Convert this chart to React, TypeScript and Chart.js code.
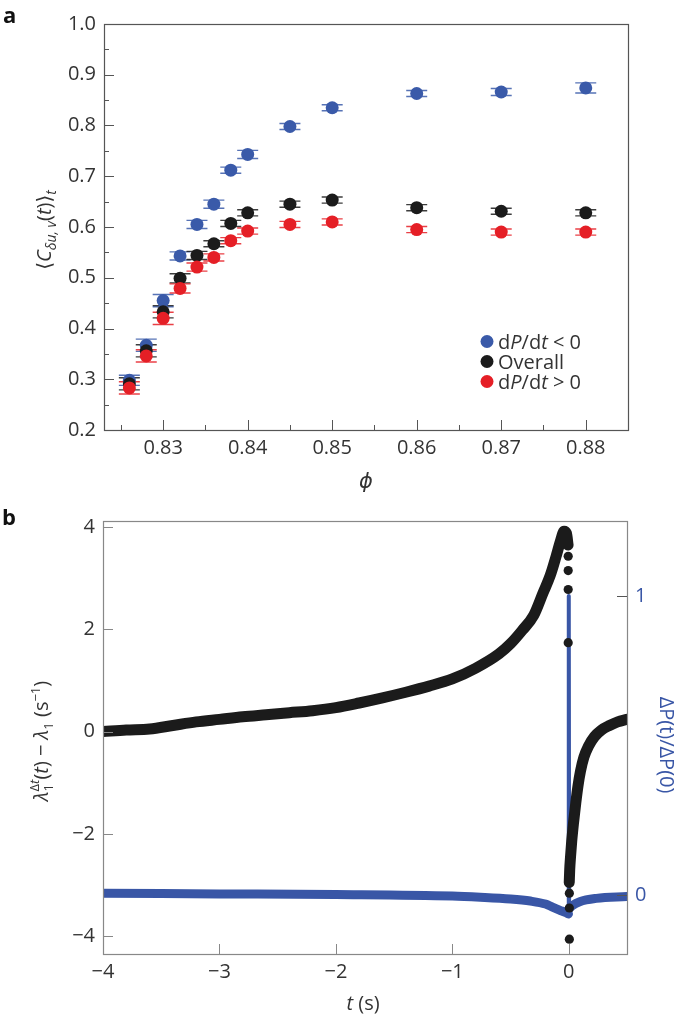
import React, { useEffect, useRef } from "react";
import { Chart, registerables } from "chart.js";
Chart.register(...registerables);

const FONT = '"Open Sans", "DejaVu Sans", sans-serif';
const BLUE = "#3a5aa9";
const BLACK = "#1b1b1b";
const RED = "#e51f26";
const BLUE_LINE = "#3956a6";

// ---------- Panel a data ----------
const phi = [0.826, 0.828, 0.83, 0.832, 0.834, 0.836, 0.838, 0.84, 0.845, 0.85, 0.86, 0.87, 0.88];
const cNeg = [0.298, 0.367, 0.455, 0.543, 0.605, 0.645, 0.712, 0.743, 0.798, 0.835, 0.863, 0.866, 0.874];
const cAll = [0.291, 0.356, 0.433, 0.499, 0.544, 0.567, 0.607, 0.628, 0.645, 0.653, 0.638, 0.631, 0.628];
const cPos = [0.283, 0.346, 0.42, 0.479, 0.521, 0.54, 0.573, 0.592, 0.605, 0.61, 0.595, 0.59, 0.59];
const eNeg = [0.01, 0.012, 0.012, 0.008, 0.008, 0.008, 0.006, 0.008, 0.006, 0.006, 0.006, 0.007, 0.01];
const eAll = [0.012, 0.012, 0.012, 0.009, 0.008, 0.006, 0.006, 0.006, 0.006, 0.006, 0.006, 0.006, 0.006];
const ePos = [0.012, 0.012, 0.012, 0.009, 0.008, 0.007, 0.006, 0.006, 0.006, 0.006, 0.006, 0.006, 0.006];
const xTicksA = [0.83, 0.84, 0.85, 0.86, 0.87, 0.88];
const xMinorA = [0.825, 0.835, 0.845, 0.855, 0.865, 0.875];
const yTicksA = [0.2, 0.3, 0.4, 0.5, 0.6, 0.7, 0.8, 0.9, 1.0];
const yMinorA = [0.25, 0.35, 0.45, 0.55, 0.65, 0.75, 0.85, 0.95];

// ---------- Panel b data ----------
const lamT = [-4.0, -3.8, -3.6, -3.4, -3.2, -3.0, -2.8, -2.6, -2.4, -2.2, -2.0, -1.8, -1.6, -1.4, -1.2, -1.0, -0.8, -0.6, -0.5, -0.4, -0.3, -0.22, -0.16, -0.11, -0.07, -0.04, -0.02, -0.006];
const lamV = [0.0, 0.03, 0.05, 0.12, 0.19, 0.24, 0.29, 0.33, 0.37, 0.41, 0.47, 0.56, 0.66, 0.77, 0.89, 1.03, 1.24, 1.52, 1.72, 1.98, 2.28, 2.72, 3.05, 3.42, 3.74, 3.92, 3.88, 3.65];
const recT = [0.004, 0.008, 0.015, 0.025, 0.04, 0.06, 0.08, 0.1, 0.13, 0.17, 0.22, 0.28, 0.35, 0.42, 0.5];
const recV = [-2.95, -2.7, -2.45, -2.15, -1.8, -1.4, -1.05, -0.78, -0.5, -0.28, -0.1, 0.03, 0.12, 0.19, 0.24];
const dotT = [-0.005, -0.005, -0.005, -0.005, 0.005, 0.005, 0.005];
const dotV = [3.43, 3.15, 2.78, 1.74, -3.16, -3.45, -4.06];
const pLeftT = [-4, -3, -2, -1, -0.76, -0.5, -0.33, -0.2, -0.14, -0.08, -0.03, -0.003];
const pLeftV = [0.006, 0.004, 0.002, -0.003, -0.007, -0.013, -0.02, -0.03, -0.04, -0.05, -0.058, -0.063];
const pSpikeT = [-0.003, 0, 0.003];
const pSpikeV = [-0.063, 1.0, -0.045];
const pRightT = [0.003, 0.03, 0.094, 0.237, 0.5];
const pRightV = [-0.045, -0.035, -0.022, -0.011, -0.005];
const xTicksB = [-4, -3, -2, -1, 0];
const yTicksB = [-4, -2, 0, 2, 4];
const y2TicksB = [0, 1];

const pts = (xs: number[], ys: number[]) => xs.map((x, i) => ({ x, y: ys[i] }));
const fmtMinus = (v: number) => (v < 0 ? "\u2212" + Math.abs(v) : String(v));

type Part = { t: string; size?: number; italic?: boolean; bold?: boolean; dy?: number; adv?: boolean };
const setFont = (ctx: CanvasRenderingContext2D, p: Part) => {
  ctx.font = `${p.italic ? "italic " : ""}${p.bold ? "bold " : ""}${p.size || 20}px ${FONT}`;
};
function partsWidth(ctx: CanvasRenderingContext2D, parts: Part[]) {
  let w = 0;
  for (const p of parts) {
    setFont(ctx, p);
    if (p.adv !== false) w += ctx.measureText(p.t).width;
  }
  return w;
}
function drawRich(ctx: CanvasRenderingContext2D, parts: Part[], x: number, y: number, rot: number, color: string, align: "center" | "left" = "center") {
  ctx.save();
  ctx.translate(x, y);
  ctx.rotate(rot);
  ctx.fillStyle = color;
  ctx.textAlign = "left";
  ctx.textBaseline = "alphabetic";
  let cx = align === "center" ? -partsWidth(ctx, parts) / 2 : 0;
  for (const p of parts) {
    setFont(ctx, p);
    ctx.fillText(p.t, cx, 7 + (p.dy || 0));
    if (p.adv !== false) cx += ctx.measureText(p.t).width;
  }
  ctx.restore();
}

function tickX(ctx: CanvasRenderingContext2D, chart: any, id: string, vals: number[], len: number) {
  const s = chart.scales[id];
  const b = chart.chartArea.bottom;
  for (const v of vals) {
    const x = Math.round(s.getPixelForValue(v)) + 0.5;
    ctx.beginPath();
    ctx.moveTo(x, b);
    ctx.lineTo(x, b - len);
    ctx.stroke();
  }
}
function tickY(ctx: CanvasRenderingContext2D, chart: any, id: string, vals: number[], len: number, side: "left" | "right") {
  const s = chart.scales[id];
  const a = chart.chartArea;
  for (const v of vals) {
    const y = Math.round(s.getPixelForValue(v)) + 0.5;
    ctx.beginPath();
    if (side === "left") {
      ctx.moveTo(a.left, y);
      ctx.lineTo(a.left + len, y);
    } else {
      ctx.moveTo(a.right, y);
      ctx.lineTo(a.right - len, y);
    }
    ctx.stroke();
  }
}

const panelAPlugin = {
  id: "panelA",
  beforeDatasetsDraw(chart: any) {
    const ctx = chart.ctx as CanvasRenderingContext2D;
    const xs = chart.scales.x;
    const ys = chart.scales.y;
    const series: [number[], number[], string][] = [
      [cNeg, eNeg, "rgba(58,90,169,0.85)"],
      [cAll, eAll, "rgba(27,27,27,0.85)"],
      [cPos, ePos, "rgba(229,31,38,0.85)"],
    ];
    ctx.save();
    ctx.lineWidth = 1.4;
    for (const [vals, errs, col] of series) {
      ctx.strokeStyle = col;
      vals.forEach((v, i) => {
        const px = xs.getPixelForValue(phi[i]);
        const yt = ys.getPixelForValue(v + errs[i]);
        const yb = ys.getPixelForValue(v - errs[i]);
        ctx.beginPath();
        ctx.moveTo(px, yt);
        ctx.lineTo(px, yb);
        ctx.moveTo(px - 10.5, yt);
        ctx.lineTo(px + 10.5, yt);
        ctx.moveTo(px - 10.5, yb);
        ctx.lineTo(px + 10.5, yb);
        ctx.stroke();
      });
    }
    ctx.restore();
  },
  afterDraw(chart: any) {
    const ctx = chart.ctx as CanvasRenderingContext2D;
    const a = chart.chartArea;
    ctx.save();
    ctx.strokeStyle = "#555";
    ctx.lineWidth = 1.2;
    ctx.strokeRect(Math.round(a.left) + 0.5, Math.round(a.top) + 0.5, Math.round(a.right - a.left), Math.round(a.bottom - a.top));
    ctx.lineWidth = 1;
    tickX(ctx, chart, "x", xTicksA, 10);
    tickX(ctx, chart, "x", xMinorA, 5);
    tickY(ctx, chart, "y", yTicksA, 10, "left");
    tickY(ctx, chart, "y", yMinorA, 5, "left");
    ctx.restore();

    // panel letter
    drawRich(ctx, [{ t: "a", bold: true, size: 22 }], 3, 16, 0, "#111", "left");
    // y title
    drawRich(
      ctx,
      [
        { t: "\u27E8" },
        { t: "C", italic: true },
        { t: "\u03B4u, v", italic: true, size: 14, dy: 5 },
        { t: "(" },
        { t: "t", italic: true },
        { t: ")\u27E9" },
        { t: "t", italic: true, size: 14, dy: 5 },
      ],
      44,
      230,
      -Math.PI / 2,
      "#333"
    );
    // x title
    drawRich(ctx, [{ t: "\u03D5", italic: true, size: 21 }], 366, 481, 0, "#333");
    // legend
    const items: [string, Part[]][] = [
      [BLUE, [{ t: "d" }, { t: "P", italic: true }, { t: "/d" }, { t: "t", italic: true }, { t: " < 0" }]],
      [BLACK, [{ t: "Overall" }]],
      [RED, [{ t: "d" }, { t: "P", italic: true }, { t: "/d" }, { t: "t", italic: true }, { t: " > 0" }]],
    ];
    items.forEach(([col, parts], i) => {
      const cy = 341.5 + i * 20;
      ctx.beginPath();
      ctx.fillStyle = col;
      ctx.arc(487, cy, 6.5, 0, Math.PI * 2);
      ctx.fill();
      drawRich(ctx, parts, 498, cy, 0, "#333", "left");
    });
  },
};

const panelBPlugin = {
  id: "panelB",
  afterDraw(chart: any) {
    const ctx = chart.ctx as CanvasRenderingContext2D;
    const a = chart.chartArea;
    ctx.save();
    ctx.strokeStyle = "#888";
    ctx.lineWidth = 1.2;
    ctx.strokeRect(Math.round(a.left) + 0.5, Math.round(a.top) + 0.5, Math.round(a.right - a.left), Math.round(a.bottom - a.top));
    ctx.lineWidth = 1;
    tickX(ctx, chart, "x", xTicksB, 10);
    tickY(ctx, chart, "y", yTicksB, 10, "left");
    ctx.strokeStyle = "#555";
    tickY(ctx, chart, "y2", y2TicksB, 10, "right");
    ctx.restore();

    drawRich(ctx, [{ t: "b", bold: true, size: 22 }], 2, 18, 0, "#111", "left");
    drawRich(
      ctx,
      [
        { t: "\u03BB", italic: true },
        { t: "1", size: 13, dy: 5, adv: false },
        { t: "\u0394", size: 13, dy: -9 },
        { t: "t", size: 13, italic: true, dy: -9 },
        { t: "(" },
        { t: "t", italic: true },
        { t: ") \u2212 " },
        { t: "\u03BB", italic: true },
        { t: "1", size: 13, dy: 5 },
        { t: " (s" },
        { t: "\u22121", size: 13, dy: -8 },
        { t: ")" },
      ],
      41,
      241,
      -Math.PI / 2,
      "#333"
    );
    drawRich(ctx, [{ t: "\u0394P(t)/\u0394P(0)" }], 667, 245, Math.PI / 2, BLUE_LINE);
    drawRich(ctx, [{ t: "t", italic: true }, { t: " (s)" }], 363, 503, 0, "#333");
  },
};

function PanelA() {
  const ref = useRef<HTMLCanvasElement>(null);
  useEffect(() => {
    const chart = new Chart(ref.current!, {
      type: "scatter",
      data: {
        datasets: [
          { label: "dP/dt > 0", data: pts(phi, cPos), backgroundColor: RED, borderColor: RED, pointRadius: 6.5, borderWidth: 0, order: 1 },
          { label: "Overall", data: pts(phi, cAll), backgroundColor: BLACK, borderColor: BLACK, pointRadius: 6.5, borderWidth: 0, order: 2 },
          { label: "dP/dt < 0", data: pts(phi, cNeg), backgroundColor: BLUE, borderColor: BLUE, pointRadius: 6.5, borderWidth: 0, order: 3 },
        ],
      },
      options: {
        responsive: false,
        animation: false,
        devicePixelRatio: 1,
        events: [],
        layout: { padding: { top: 24, right: 57, left: 0, bottom: 0 } },
        plugins: { legend: { display: false }, tooltip: { enabled: false } },
        scales: {
          x: {
            type: "linear",
            min: 0.823,
            max: 0.885,
            grid: { display: false, drawTicks: false },
            border: { display: false },
            afterBuildTicks: (s: any) => {
              s.ticks = xTicksA.map((v) => ({ value: v }));
            },
            afterFit: (s: any) => {
              s.height = 75;
            },
            ticks: { padding: 6, autoSkip: false, maxRotation: 0, color: "#333", font: { family: FONT, size: 20 }, callback: (v: any) => Number(v).toFixed(2) },
          },
          y: {
            type: "linear",
            min: 0.2,
            max: 1.0,
            grid: { display: false, drawTicks: false },
            border: { display: false },
            afterBuildTicks: (s: any) => {
              s.ticks = yTicksA.map((v) => ({ value: v }));
            },
            afterFit: (s: any) => {
              s.width = 104;
            },
            ticks: { padding: 8, autoSkip: false, color: "#333", font: { family: FONT, size: 20 }, callback: (v: any) => Number(v).toFixed(1) },
          },
        },
      },
      plugins: [panelAPlugin],
    } as any);
    return () => chart.destroy();
  }, []);
  return <canvas ref={ref} width={685} height={505} style={{ position: "absolute", left: 0, top: 0 }} />;
}

function PanelB() {
  const ref = useRef<HTMLCanvasElement>(null);
  useEffect(() => {
    const chart = new Chart(ref.current!, {
      type: "scatter",
      data: {
        datasets: [
          { label: "dots", data: pts(dotT, dotV), backgroundColor: BLACK, pointRadius: 4.6, borderWidth: 0, order: 1 },
          { label: "lambda", data: pts(lamT, lamV), showLine: true, borderColor: BLACK, borderWidth: 11, pointRadius: 0, cubicInterpolationMode: "monotone", borderCapStyle: "round", borderJoinStyle: "round", order: 2 },
          { label: "lambdaRec", data: pts(recT, recV), showLine: true, borderColor: BLACK, borderWidth: 11, pointRadius: 0, cubicInterpolationMode: "monotone", borderCapStyle: "round", borderJoinStyle: "round", order: 3 },
          { label: "pSpike", data: pts(pSpikeT, pSpikeV), yAxisID: "y2", showLine: true, borderColor: BLUE_LINE, borderWidth: 4, pointRadius: 0, borderCapStyle: "round", borderJoinStyle: "round", order: 4 },
          { label: "pLeft", data: pts(pLeftT, pLeftV), yAxisID: "y2", showLine: true, borderColor: BLUE_LINE, borderWidth: 9, pointRadius: 0, cubicInterpolationMode: "monotone", borderCapStyle: "round", order: 5 },
          { label: "pRight", data: pts(pRightT, pRightV), yAxisID: "y2", showLine: true, borderColor: BLUE_LINE, borderWidth: 9, pointRadius: 0, cubicInterpolationMode: "monotone", borderCapStyle: "round", order: 6 },
        ],
      },
      options: {
        responsive: false,
        animation: false,
        devicePixelRatio: 1,
        events: [],
        layout: { padding: { top: 21, right: 0, left: 0, bottom: 0 } },
        plugins: { legend: { display: false }, tooltip: { enabled: false } },
        scales: {
          x: {
            type: "linear",
            min: -4,
            max: 0.5,
            grid: { display: false, drawTicks: false },
            border: { display: false },
            afterBuildTicks: (s: any) => {
              s.ticks = xTicksB.map((v) => ({ value: v }));
            },
            afterFit: (s: any) => {
              s.height = 62;
            },
            ticks: { padding: 6, autoSkip: false, maxRotation: 0, color: "#333", font: { family: FONT, size: 20 }, callback: (v: any) => fmtMinus(Number(v)) },
          },
          y: {
            type: "linear",
            position: "left",
            min: -4.35,
            max: 4.12,
            grid: { display: false, drawTicks: false },
            border: { display: false },
            afterBuildTicks: (s: any) => {
              s.ticks = yTicksB.map((v) => ({ value: v }));
            },
            afterFit: (s: any) => {
              s.width = 103;
            },
            ticks: { padding: 8, autoSkip: false, color: "#333", font: { family: FONT, size: 20 }, callback: (v: any) => fmtMinus(Number(v)) },
          },
          y2: {
            type: "linear",
            position: "right",
            min: -0.197,
            max: 1.251,
            grid: { display: false, drawTicks: false },
            border: { display: false },
            afterBuildTicks: (s: any) => {
              s.ticks = y2TicksB.map((v) => ({ value: v }));
            },
            afterFit: (s: any) => {
              s.width = 58;
            },
            ticks: { padding: 8, autoSkip: false, color: BLUE_LINE, font: { family: FONT, size: 20 }, callback: (v: any) => String(v) },
          },
        },
      },
      plugins: [panelBPlugin],
    } as any);
    return () => chart.destroy();
  }, []);
  return <canvas ref={ref} width={685} height={516} style={{ position: "absolute", left: 0, top: 500 }} />;
}

export default function App() {
  return (
    <div style={{ position: "fixed", left: 0, top: 0, width: 685, height: 1016, background: "#fff", overflow: "hidden" }}>
      <PanelA />
      <PanelB />
    </div>
  );
}
